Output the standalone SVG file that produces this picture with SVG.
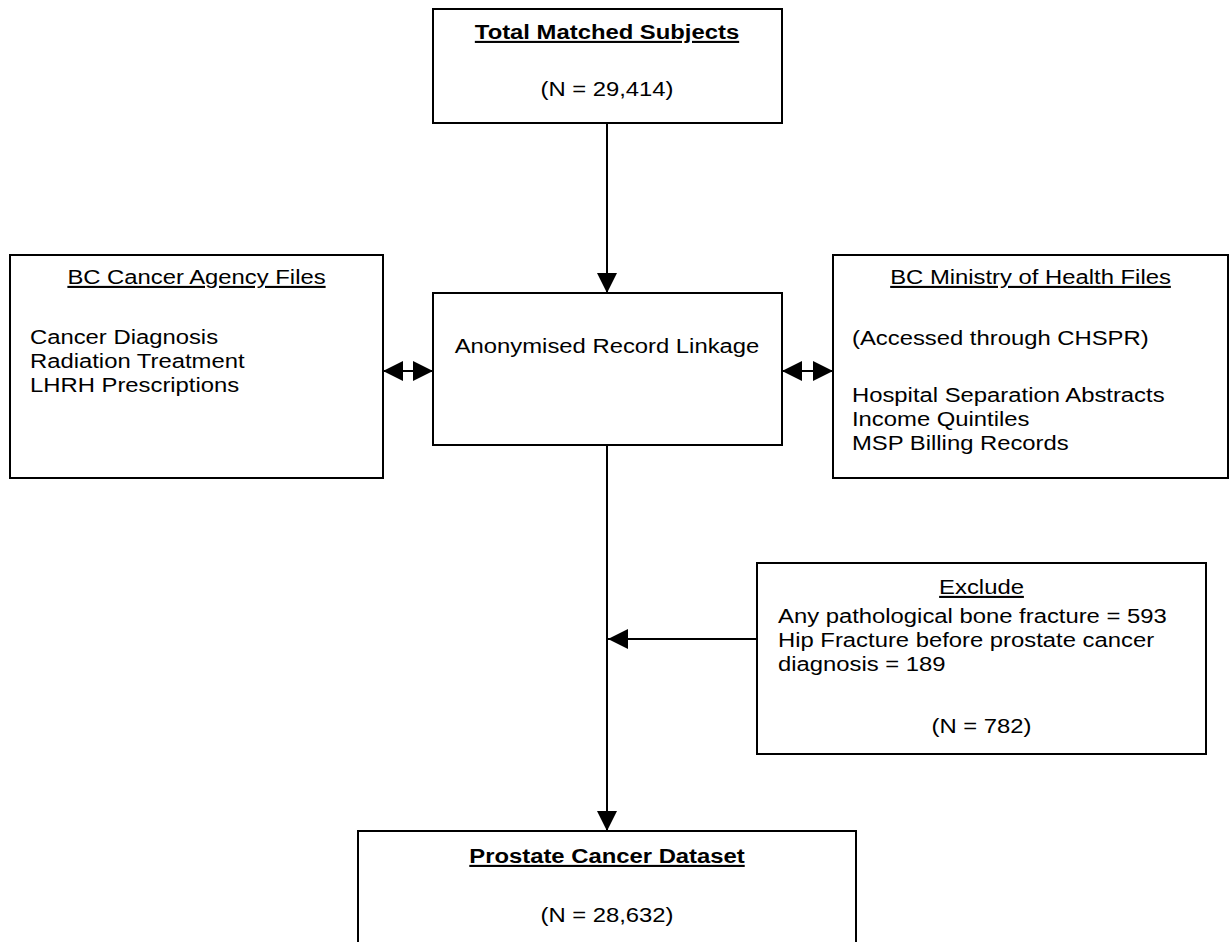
<svg xmlns="http://www.w3.org/2000/svg" width="1230" height="942" viewBox="0 0 1230 942">
<style>
  .box { fill: #ffffff; stroke: #000000; stroke-width: 2; }
  .t { font-family: "Liberation Sans", Arial, sans-serif; font-size: 21px; fill: #000000; }
  .c { text-anchor: middle; }
  .b { font-weight: bold; }
  .u { text-decoration: underline; }
  .conn { stroke: #000000; stroke-width: 2; fill: none; }
</style>
<defs>
  <marker id="ah" viewBox="0 0 20 20" refX="20" refY="10" markerWidth="20" markerHeight="20" markerUnits="userSpaceOnUse" orient="auto-start-reverse">
    <path d="M0,0 L20,10 L0,20 Z" fill="#000000"/>
  </marker>
</defs>
<rect x="0" y="0" width="1230" height="942" fill="#ffffff"/>

<g id="connectors">
  <line class="conn" x1="607" y1="123" x2="607" y2="293" marker-end="url(#ah)"/>
  <line class="conn" x1="607" y1="445" x2="607" y2="831" marker-end="url(#ah)"/>
  <line class="conn" x1="757" y1="639" x2="608" y2="639" marker-end="url(#ah)"/>
  <line class="conn" x1="383" y1="371" x2="433" y2="371" marker-start="url(#ah)" marker-end="url(#ah)"/>
  <line class="conn" x1="782" y1="371" x2="833" y2="371" marker-start="url(#ah)" marker-end="url(#ah)"/>
</g>

<g id="total-matched">
  <rect class="box" x="433" y="9" width="349" height="114"/>
  <text class="t c b u" transform="translate(607,39) scale(1.135,1)">Total Matched Subjects</text>
  <text class="t c" transform="translate(607,96) scale(1.135,1)">(N = 29,414)</text>
</g>

<g id="record-linkage">
  <rect class="box" x="433" y="293" width="349" height="152"/>
  <text class="t c" transform="translate(607,353) scale(1.135,1)">Anonymised Record Linkage</text>
</g>

<g id="bc-cancer-agency">
  <rect class="box" x="10" y="255" width="373" height="223"/>
  <text class="t c u" transform="translate(196.5,284) scale(1.135,1)">BC Cancer Agency Files</text>
  <text class="t" transform="translate(30,344) scale(1.135,1)">Cancer Diagnosis</text>
  <text class="t" transform="translate(30,368) scale(1.135,1)">Radiation Treatment</text>
  <text class="t" transform="translate(30,392) scale(1.135,1)">LHRH Prescriptions</text>
</g>

<g id="bc-ministry">
  <rect class="box" x="833" y="255" width="395" height="223"/>
  <text class="t c u" transform="translate(1030.5,284) scale(1.135,1)">BC Ministry of Health Files</text>
  <text class="t" transform="translate(852,345) scale(1.135,1)">(Accessed through CHSPR)</text>
  <text class="t" transform="translate(852,402) scale(1.135,1)">Hospital Separation Abstracts</text>
  <text class="t" transform="translate(852,426) scale(1.135,1)">Income Quintiles</text>
  <text class="t" transform="translate(852,450) scale(1.135,1)">MSP Billing Records</text>
</g>

<g id="exclude">
  <rect class="box" x="757" y="563" width="449" height="191"/>
  <text class="t c u" transform="translate(981.5,594) scale(1.135,1)">Exclude</text>
  <text class="t" transform="translate(778,623) scale(1.135,1)">Any pathological bone fracture = 593</text>
  <text class="t" transform="translate(778,647) scale(1.135,1)">Hip Fracture before prostate cancer</text>
  <text class="t" transform="translate(778,671) scale(1.135,1)">diagnosis = 189</text>
  <text class="t c" transform="translate(981.5,733) scale(1.135,1)">(N = 782)</text>
</g>

<g id="prostate-dataset">
  <rect class="box" x="358" y="831" width="498" height="140"/>
  <text class="t c b u" transform="translate(607,863) scale(1.135,1)">Prostate Cancer Dataset</text>
  <text class="t c" transform="translate(607,922) scale(1.135,1)">(N = 28,632)</text>
</g>
</svg>
